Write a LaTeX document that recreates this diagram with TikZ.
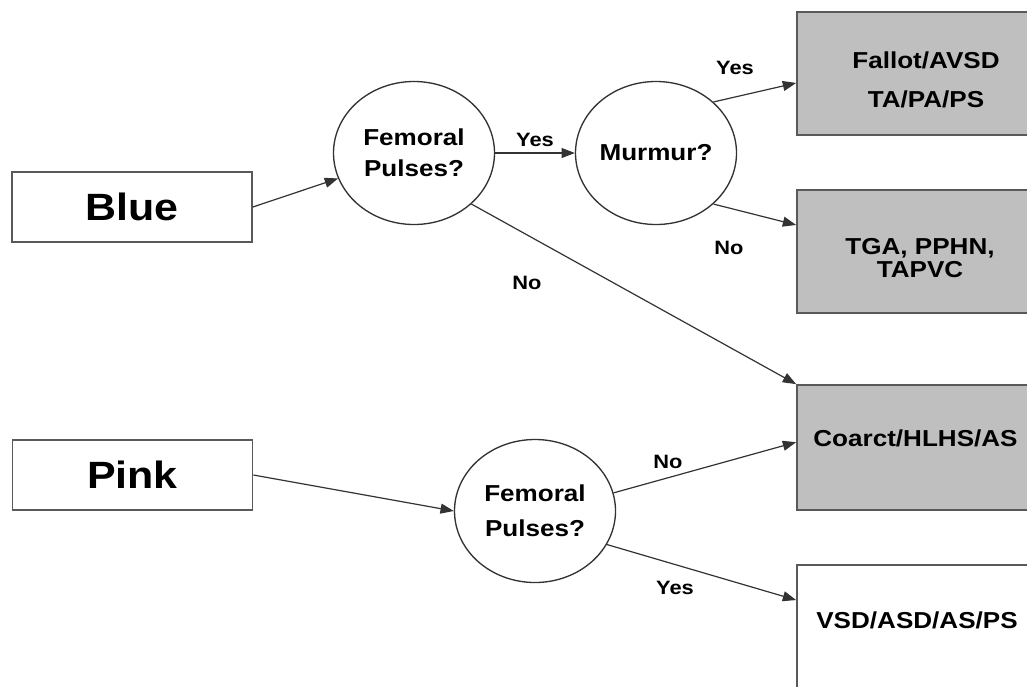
\documentclass[tikz,border=0pt]{standalone}
\usepackage{fontspec}
\setmainfont{Liberation Sans}[FakeStretch=1.13]
\usetikzlibrary{arrows.meta,shapes.geometric}

\begin{document}
\begin{tikzpicture}[x=0.75pt, y=-0.75pt,
		colourbox/.style={rectangle, draw=black!65, line width=1.3pt, inner sep=0pt, minimum width=180pt, minimum height=52.5pt, font=\bfseries\fontsize{28.5}{30}\selectfont},
		dxbox/.style={rectangle, draw=black!65, line width=1.3pt, inner sep=0pt, minimum width=195pt},
		dxtext/.style={align=center, inner sep=0pt, font=\bfseries\fontsize{17.3}{17.3}\selectfont},
		question/.style={ellipse, draw=black!80, line width=1pt, inner sep=0pt, minimum width=120.75pt, minimum height=107.25pt, align=center, font=\bfseries\fontsize{17.3}{23.25}\selectfont},
		answer/.style={inner sep=0pt, font=\bfseries\fontsize{14.5}{14.5}\selectfont},
		arr/.style={draw=black!80, line width=0.9pt, -{Triangle[length=10pt, width=7.5pt]}}]
		%%%%% START %%%%%
		
		\fill[white] (0, 0) rectangle (1027, 686);
		\useasboundingbox (0, 0) rectangle (1027, 686);
		\clip (0, 0) rectangle (1027, 686);
		
		% colour of the baby
		\node[colourbox] (blue) at (132, 207) {Blue};
		\node[colourbox] (pink) at (132.5, 475) {Pink};
		
		% questions
		\node[question] (fem1) at (414, 153) {Femoral\\Pulses?};
		\node[question] (murmur) at (656, 153) {Murmur?};
		\node[question] (fem2) at (535, 511) {Femoral\\[3pt]Pulses?};
		
		% diagnoses
		\node[dxbox, fill=black!25, minimum height=92.25pt] (fallot) at (927, 73.5) {};
		\node[dxbox, fill=black!25, minimum height=92.25pt] (tga) at (927, 251.5) {};
		\node[dxbox, fill=black!25, minimum height=93.75pt] (coarct) at (927, 447.5) {};
		\node[dxbox, fill=white, minimum height=93.75pt] (vsd) at (927, 627.5) {};
		
		\node[dxtext] (fallottext) at (926, 80) {Fallot/AVSD\\[12pt]TA/PA/PS};
		\node[dxtext] (tgatext) at (920, 258.5) {TGA, PPHN,\\TAPVC};
		\node[dxtext] (coarcttext) at (915.5, 438) {Coarct/HLHS/AS};
		\node[dxtext] (vsdtext) at (917, 620) {VSD/ASD/AS/PS};
		
		% connectors
		\draw[arr] (blue.east) -- (fem1);
		\draw[arr] (fem1.east) -- (murmur.west);
		\draw[arr] (murmur.north east) -- ([yshift=-7.1pt]fallot.west);
		\draw[arr] (murmur.south east) -- ([yshift=19.9pt]tga.west);
		\draw[arr] (fem1.south east) -- (coarct.north west);
		\draw[arr] (pink.east) -- (fem2.west);
		\draw[arr] (fem2.13) -- ([yshift=4pt]coarct.west);
		\draw[arr] (fem2.-25) -- ([yshift=20.6pt]vsd.west);
		
		% answers
		\node[answer] (yes1) at (535, 140) {Yes};
		\node[answer] (yes2) at (735, 68) {Yes};
		\node[answer] (no1) at (729, 248) {No};
		\node[answer] (no2) at (527, 283) {No};
		\node[answer] (no3) at (668, 462) {No};
		\node[answer] (yes3) at (675, 588) {Yes};
		
		%%%%% END %%%%%
	\end{tikzpicture}
\end{document}
